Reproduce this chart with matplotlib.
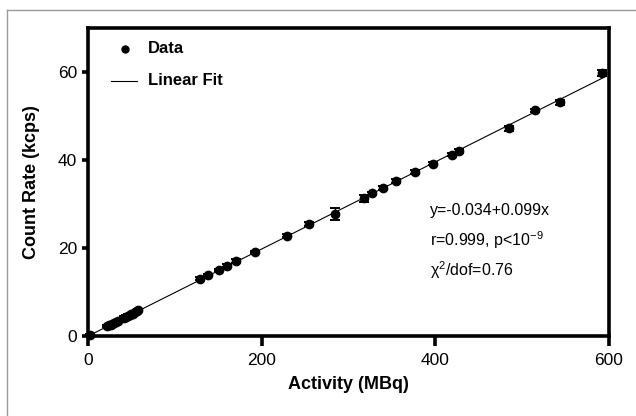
import matplotlib.pyplot as plt
from matplotlib.lines import Line2D

plt.rcParams['font.family'] = ['Liberation Sans', 'DejaVu Sans']

# data
activity = [2, 22, 24, 26, 28, 30, 32, 34, 42, 44, 46, 48, 50, 52, 54, 56, 58,
            129, 138, 151, 160, 171, 192, 229, 255, 285, 318, 327, 340, 355,
            377, 397, 419, 427, 485, 515, 544, 592]
count_rate = [0.2, 2.2, 2.4, 2.6, 2.8, 3.0, 3.1, 3.3, 4.2, 4.4, 4.6, 4.8, 4.9,
              5.1, 5.4, 5.6, 5.8, 13.0, 13.9, 15.0, 16.0, 17.1, 19.1, 22.8,
              25.4, 27.7, 31.3, 32.4, 33.6, 35.2, 37.3, 39.2, 41.2, 42.1, 47.2,
              51.3, 53.1, 59.8]
count_err = [0.2, 0.2, 0.2, 0.2, 0.2, 0.2, 0.2, 0.2, 0.3, 0.3, 0.3, 0.3, 0.3,
             0.3, 0.3, 0.3, 0.3, 0.3, 0.3, 0.3, 0.3, 0.4, 0.3, 0.3, 0.4, 1.4,
             0.8, 0.4, 0.4, 0.4, 0.4, 0.4, 0.4, 0.5, 0.5, 0.4, 0.6, 0.7]

fit_intercept = -0.034
fit_slope = 0.099
fit_range = [0, 592]

fig = plt.figure(figsize=(6.36, 4.16), dpi=100)
fig.patch.set_facecolor('white')
ax = fig.add_axes([88 / 636, 1 - 336 / 416, (609 - 88) / 636, (336 - 28) / 416])

# thin gray frame on the left and top of the figure
fig.add_artist(Line2D([7 / 636, 7 / 636], [0, 1 - 10 / 416], transform=fig.transFigure,
                      color='#9a9a9a', lw=1.0))
fig.add_artist(Line2D([7 / 636, 1], [1 - 10 / 416, 1 - 10 / 416], transform=fig.transFigure,
                      color='#9a9a9a', lw=1.0))

fit_y = [fit_intercept + fit_slope * x for x in fit_range]
ax.plot(fit_range, fit_y, color='black', lw=0.8, zorder=2)
ax.errorbar(activity, count_rate, yerr=count_err, fmt='o', color='black',
            ms=6, capsize=3.5, elinewidth=1.0, capthick=1.4, zorder=3,
            clip_on=False)

ax.set_xlim(0, 600)
ax.set_ylim(0, 70)
ax.set_xticks([0, 200, 400, 600])
ax.set_yticks([0, 20, 40, 60])
for s in ax.spines.values():
    s.set_linewidth(2.6)
ax.tick_params(axis='x', direction='out', length=7, width=2.6, labelsize=12.5, pad=5)
ax.tick_params(axis='y', direction='out', length=4, width=2.6, labelsize=12.5, pad=4)

ax.set_xlabel('Activity (MBq)', fontsize=13, fontweight='bold', labelpad=6)
ax.set_ylabel('Count Rate (kcps)', fontsize=13, fontweight='bold', labelpad=13)

# legend drawn by hand to sit like the original
ax.plot([42.6], [65.3], 'o', color='black', ms=5, clip_on=False)
ax.plot([26.5, 56.5], [58.0, 58.0], color='black', lw=0.8)
ax.text(69, 65.3, 'Data', fontsize=12, fontweight='bold', va='center')
ax.text(69, 58.0, 'Linear Fit', fontsize=12, fontweight='bold', va='center')

ax.text(394, 28.5, 'y=-0.034+0.099x', fontsize=11.5, va='center')
ax.text(394, 21.7, r'r=0.999, p<10$^{\mathregular{-9}}$', fontsize=11.5, va='center')
ax.text(394, 15.0, '\u03c7$^{\\mathregular{2}}$/dof=0.76', fontsize=11.5, va='center')

fig.savefig('out.png', dpi=100)
